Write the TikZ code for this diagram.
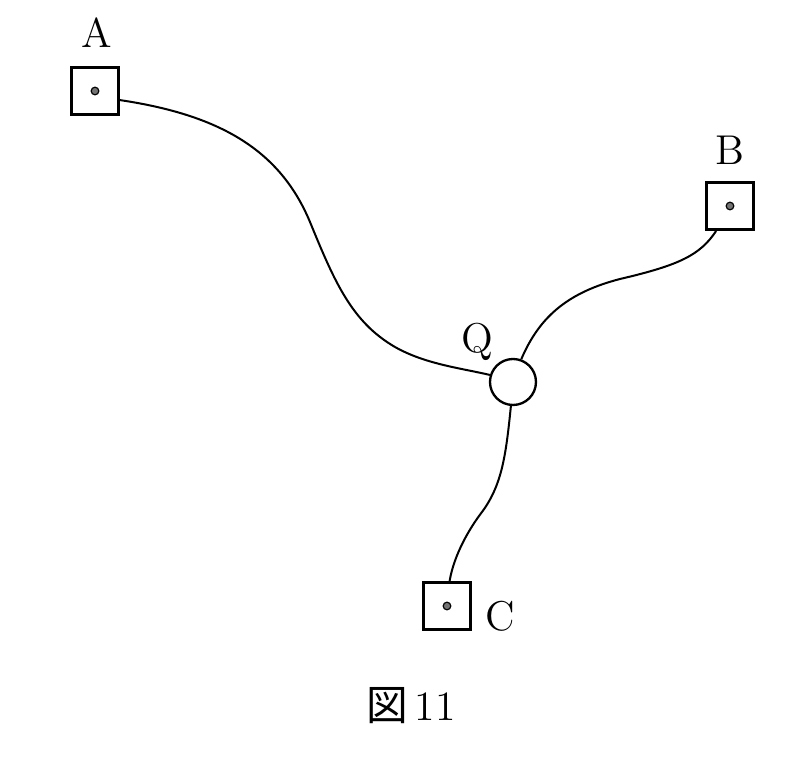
\documentclass[tikz,border=0pt]{standalone}
\usepackage{fontspec}
\newfontfamily\cjk{Noto Sans CJK JP}
\usetikzlibrary{positioning}
\tikzset{
  station/.style={draw,line width=0.9pt,rectangle,minimum size=14.1pt,inner sep=0pt,fill=white},
  pin/.style={draw,line width=0.35pt,circle,fill=black!55,minimum size=2.3pt,inner sep=0pt},
  hub/.style={draw,line width=0.7pt,circle,minimum size=13.8pt,inner sep=0pt,fill=white},
  wire/.style={line width=0.6pt},
  tag/.style={font=\fontsize{12.5}{15}\selectfont,inner sep=0pt}
}
\begin{document}
\begin{tikzpicture}[x=0.3pt,y=-0.3pt]
\useasboundingbox[fill=white] (0,0) rectangle (800,760);
  \node[station] (boxA) at (95,91) {};
  \node[station] (boxB) at (730,206) {};
  \node[station] (boxC) at (447,606) {};
  \node[hub] (Q) at (513,382) {};
  \node[pin] (dotA) at (boxA) {};
  \node[pin] (dotB) at (boxB) {};
  \node[pin] (dotC) at (boxC) {};

  \node[tag] (labA) at (97,33) {A};
  \node[tag] (labB) at (730,150) {B};
  \node[tag] (labQ) at (477,342) {Q};
  \node[tag] (labC) at (500,616) {C};
  \node[tag] (cap) at (411,706) {{\cjk 図}\,11};

\draw[wire] (boxA.-20) .. controls (220,115) and (280,150) .. (310,222)
   .. controls (335,283) and (352,322) .. (395,347)
   .. controls (425,364) and (460,368) .. (Q.163);
\draw[wire] (boxB.-119) .. controls (700,255) and (680,265) .. (620,279)
   .. controls (570,292) and (540,315) .. (Q.70);
\draw[wire] (Q.-95) .. controls (506,455) and (502,485) .. (482,512)
   .. controls (469,529) and (454,555) .. (boxC.84);
\end{tikzpicture}
\end{document}
